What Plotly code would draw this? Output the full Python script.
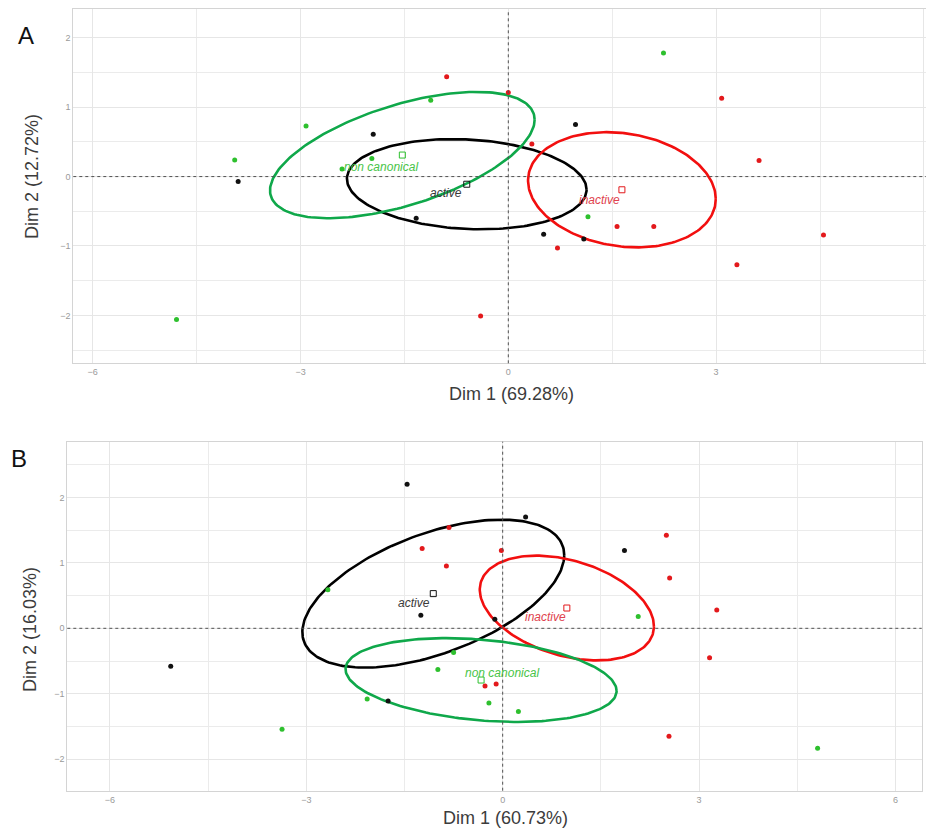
import numpy as np
import plotly.graph_objects as go

W, H = 926, 830

# ---------------- Panel A: individuals on Dim 1 / Dim 2 ----------------
a_active_x = [-1.95, -3.90, -1.33, 0.97, 0.51, 1.09]
a_active_y = [0.61, -0.07, -0.60, 0.75, -0.83, -0.90]
a_inactive_x = [-0.89, 0.00, 3.08, 0.34, 3.62, 1.57, 2.10, 0.71, 4.55, 3.30, -0.40]
a_inactive_y = [1.44, 1.21, 1.13, 0.47, 0.23, -0.72, -0.72, -1.03, -0.84, -1.27, -2.01]
a_noncanon_x = [-1.12, -2.92, -3.95, -1.97, -2.40, 2.24, 1.15, -4.79]
a_noncanon_y = [1.10, 0.73, 0.24, 0.26, 0.11, 1.78, -0.58, -2.06]

# group centres (Dim 1, Dim 2)
a_means = {"active": (-0.60, -0.11), "inactive": (1.64, -0.19), "non canonical": (-1.53, 0.31)}
# ellipse spread: (sd along Dim 1, sd along Dim 2, correlation)
a_ellipse = {"active": (1.73, 0.65, -0.12), "inactive": (1.355, 0.83, -0.16),
             "non canonical": (1.91, 0.91, 0.56)}
# group label positions
a_labels = {"active": (-0.90, -0.24), "inactive": (1.32, -0.34), "non canonical": (-1.84, 0.14)}

# ---------------- Panel B ----------------
b_active_x = [-1.46, -1.25, -5.07, -1.75, 0.35, 1.86, -0.12]
b_active_y = [2.20, 0.20, -0.58, -1.11, 1.70, 1.19, 0.14]
b_inactive_x = [-0.82, -1.23, -0.86, 2.50, -0.02, 2.55, 3.27, 3.16, -0.27, -0.10, 2.54]
b_inactive_y = [1.54, 1.22, 0.95, 1.42, 1.19, 0.77, 0.28, -0.45, -0.88, -0.85, -1.65]
b_noncanon_x = [-2.67, -0.75, -0.99, -2.07, -3.37, 2.07, -0.21, 0.24, 4.81]
b_noncanon_y = [0.59, -0.37, -0.63, -1.08, -1.54, 0.18, -1.14, -1.27, -1.83]

b_means = {"active": (-1.06, 0.53), "inactive": (0.98, 0.31), "non canonical": (-0.33, -0.79)}
b_ellipse = {"active": (2.00, 1.13, 0.52), "inactive": (1.33, 0.80, -0.35),
             "non canonical": (2.07, 0.64, -0.26)}
b_labels = {"active": (-1.36, 0.39), "inactive": (0.66, 0.17), "non canonical": (-0.01, -0.69)}

# axis labels
a_xtitle, a_ytitle = "Dim 1 (69.28%)", "Dim 2 (12.72%)"
b_xtitle, b_ytitle = "Dim 1 (60.73%)", "Dim 2 (16.03%)"
x_ticks = [-6, -3, 0, 3, 6]
y_ticks = [-2, -1, 0, 1, 2]

point_col = {"active": "#111111", "inactive": "#E3191C", "non canonical": "#2EC02E"}
line_col = {"active": "#000000", "inactive": "#F20F0F", "non canonical": "#0FA84A"}
text_col = {"active": "#3A3A3A", "inactive": "#E0424E", "non canonical": "#48C448"}


def px(x):
    return x / W


def py(y):
    return 1 - y / H


def ellipse_xy(centre, spread, n=200):
    cx, cy = centre
    sx, sy, r = spread
    t = np.linspace(0, 2 * np.pi, n)
    ex = cx + sx * np.cos(t)
    ey = cy + sy * (r * np.cos(t) + np.sqrt(1 - r * r) * np.sin(t))
    return ex, ey


fig = go.Figure()

panels = [
    ("x", "y", {"active": (a_active_x, a_active_y), "inactive": (a_inactive_x, a_inactive_y),
                "non canonical": (a_noncanon_x, a_noncanon_y)}, a_means, a_ellipse, a_labels),
    ("x2", "y2", {"active": (b_active_x, b_active_y), "inactive": (b_inactive_x, b_inactive_y),
                  "non canonical": (b_noncanon_x, b_noncanon_y)}, b_means, b_ellipse, b_labels),
]

for xa, ya, groups, means, spreads, labels in panels:
    for g in ["active", "inactive", "non canonical"]:
        ex, ey = ellipse_xy(means[g], spreads[g])
        fig.add_trace(go.Scatter(x=ex, y=ey, mode="lines", xaxis=xa, yaxis=ya,
                                 line=dict(color=line_col[g], width=2.6), showlegend=False,
                                 hoverinfo="skip"))
    for g in ["active", "inactive", "non canonical"]:
        gx, gy = groups[g]
        fig.add_trace(go.Scatter(x=gx, y=gy, mode="markers", xaxis=xa, yaxis=ya,
                                 marker=dict(color=point_col[g], size=5), showlegend=False))
        fig.add_trace(go.Scatter(x=[means[g][0]], y=[means[g][1]], mode="markers",
                                 xaxis=xa, yaxis=ya, showlegend=False,
                                 marker=dict(symbol="square-open", color=point_col[g], size=6,
                                             line=dict(width=1, color=point_col[g]))))
        lx, ly = labels[g]
        fig.add_annotation(x=lx, y=ly, xref=xa, yref=ya, text="<i>" + g + "</i>",
                           xanchor="center", yanchor="middle",
                           showarrow=False, font=dict(size=12, color=text_col[g],
                                                      family="Liberation Sans"))

axis_common = dict(showline=True, mirror=True, linecolor="#D4D4D4", linewidth=1.2,
                   gridcolor="#E6E6E6", gridwidth=1, zeroline=False, ticks="",
                   tickfont=dict(size=9, color="#9A9A9A", family="Liberation Sans"))

fig.update_layout(
    width=W, height=H, margin=dict(l=0, r=0, t=0, b=0),
    paper_bgcolor="white", plot_bgcolor="white",
    xaxis=dict(domain=[px(73.3), px(926)], range=[-6.28, 6.03], anchor="y",
               tickvals=x_ticks, **axis_common),
    yaxis=dict(domain=[py(363.3), py(9.3)], range=[-2.69, 2.41], anchor="x",
               tickvals=y_ticks, **axis_common),
    xaxis2=dict(domain=[px(67.3), px(921.7)], range=[-6.65, 6.40], anchor="y2",
                tickvals=x_ticks, **axis_common),
    yaxis2=dict(domain=[py(790.7), py(441.7)], range=[-2.48, 2.85], anchor="x2",
                tickvals=y_ticks, **axis_common),
)
for ax, step in [("xaxis", 1.5), ("yaxis", 0.5), ("xaxis2", 1.5), ("yaxis2", 0.5)]:
    fig.layout[ax].minor = dict(dtick=step, showgrid=True, gridcolor="#EBEBEB", gridwidth=1)

# reference lines through the origin
for xa, ya in [("x", "y"), ("x2", "y2")]:
    fig.add_shape(type="line", xref=xa + " domain", yref=ya, x0=0, x1=1, y0=0, y1=0,
                  line=dict(color="#505050", width=1, dash="3px,3px"))
    fig.add_shape(type="line", xref=xa, yref=ya + " domain", x0=0, x1=0, y0=0, y1=1,
                  line=dict(color="#505050", width=1, dash="3px,3px"))

title_font = dict(size=18, color="#3C3C3C", family="Liberation Sans")
for text, x, y, ang in [(a_xtitle, 511, 394, 0), (a_ytitle, 32, 177, -90),
                        (b_xtitle, 505, 818, 0), (b_ytitle, 30, 630, -90)]:
    fig.add_annotation(x=px(x), y=py(y), xref="paper", yref="paper", text=text,
                       xanchor="center", yanchor="middle",
                       textangle=ang, showarrow=False, font=title_font)

for text, x, y in [("A", 26, 35.5), ("B", 18.5, 458.5)]:
    fig.add_annotation(x=px(x), y=py(y), xref="paper", yref="paper", text=text,
                       xanchor="center", yanchor="middle",
                       showarrow=False, font=dict(size=24, color="#111111", family="Liberation Sans"))

fig.write_html("out.html")
